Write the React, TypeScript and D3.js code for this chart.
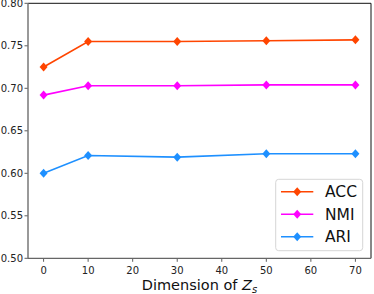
import { useEffect, useRef } from 'react';
import * as d3 from 'd3';

const dims = [0, 10, 30, 50, 70];
const acc = [0.725, 0.755, 0.755, 0.756, 0.757];
const nmi = [0.692, 0.703, 0.703, 0.704, 0.704];
const ari = [0.600, 0.621, 0.619, 0.623, 0.623];
const seriesNames = ['ACC', 'NMI', 'ARI'];
const seriesColors = ['#ff4500', '#ff00ff', '#1e90ff'];
const xTicks = [0, 10, 20, 30, 40, 50, 60, 70];
const yTicks = [0.5, 0.55, 0.6, 0.65, 0.7, 0.75, 0.8];

const W = 374, H = 294;
const FONT = 'DejaVu Sans, sans-serif';

const App = () => {
  const ref = useRef<SVGSVGElement>(null);

  useEffect(() => {
    const svg = d3.select(ref.current);
    svg.selectAll('*').remove();

    const left = 28, right = 371, top = 3.3, bottom = 258.3;
    const x = d3.scaleLinear().domain([-3.5, 73.5]).range([left, right]);
    const y = d3.scaleLinear().domain([0.5, 0.8]).range([bottom, top]);

    svg.append('rect').attr('width', W).attr('height', H).attr('fill', 'white');

    // ticks
    const g = svg.append('g').attr('font-family', FONT).attr('font-size', 10).attr('fill', '#222');
    xTicks.forEach((t) => {
      g.append('line').attr('x1', x(t)).attr('x2', x(t)).attr('y1', bottom).attr('y2', bottom + 3.5)
        .attr('stroke', '#333').attr('stroke-width', 0.8);
      g.append('text').attr('x', x(t)).attr('y', bottom + 15.5).attr('text-anchor', 'middle').text(t);
    });
    yTicks.forEach((t) => {
      g.append('line').attr('x1', left - 3.5).attr('x2', left).attr('y1', y(t)).attr('y2', y(t))
        .attr('stroke', '#333').attr('stroke-width', 0.8);
      g.append('text').attr('x', left - 5).attr('y', y(t)).attr('dy', '0.36em')
        .attr('text-anchor', 'end').text(d3.format('.2f')(t));
    });

    // spines
    svg.append('line').attr('x1', left).attr('x2', right).attr('y1', top).attr('y2', top)
      .attr('stroke', '#111').attr('stroke-width', 1);
    svg.append('line').attr('x1', right).attr('x2', right).attr('y1', top).attr('y2', bottom)
      .attr('stroke', '#111').attr('stroke-width', 1);
    svg.append('line').attr('x1', left).attr('x2', left).attr('y1', top).attr('y2', bottom)
      .attr('stroke', '#777').attr('stroke-width', 1.5);
    svg.append('line').attr('x1', left).attr('x2', right).attr('y1', bottom).attr('y2', bottom)
      .attr('stroke', '#666').attr('stroke-width', 1.2);

    const diamond = (cx: number, cy: number) =>
      `M${cx},${cy - 4.5}L${cx + 4},${cy}L${cx},${cy + 4.5}L${cx - 4},${cy}Z`;

    const line = d3.line<number>().x((_, i) => x(dims[i])).y((d) => y(d));
    [acc, nmi, ari].forEach((vals, k) => {
      svg.append('path').attr('d', line(vals)).attr('fill', 'none')
        .attr('stroke', seriesColors[k]).attr('stroke-width', 1.6);
      vals.forEach((v, i) => {
        svg.append('path').attr('d', diamond(x(dims[i]), y(v))).attr('fill', seriesColors[k]);
      });
    });

    // legend
    const leg = svg.append('g');
    leg.append('rect').attr('x', 275.7).attr('y', 179.3).attr('width', 87).attr('height', 71.4)
      .attr('rx', 3).attr('fill', 'white').attr('fill-opacity', 0.8)
      .attr('stroke', '#d6d6d6').attr('stroke-width', 1);
    seriesNames.forEach((name, k) => {
      const ly = 191.7 + k * 22.5;
      leg.append('line').attr('x1', 281).attr('x2', 313.3).attr('y1', ly).attr('y2', ly)
        .attr('stroke', seriesColors[k]).attr('stroke-width', 1.6);
      leg.append('path').attr('d', diamond(297.2, ly)).attr('fill', seriesColors[k]);
      leg.append('text').attr('x', 325).attr('y', ly).attr('dy', '0.36em')
        .attr('font-family', FONT).attr('font-size', 15.5).attr('fill', '#111').text(name);
    });

    // x label
    const xl = svg.append('text').attr('x', (left + right) / 2).attr('y', 290)
      .attr('text-anchor', 'middle').attr('font-family', FONT).attr('font-size', 14.5).attr('fill', '#111');
    xl.append('tspan').text('Dimension of ');
    xl.append('tspan').attr('font-style', 'italic').text('Z');
    xl.append('tspan').attr('font-style', 'italic').attr('font-size', 10).attr('dy', 3).text('s');
  }, []);

  return (
    <svg ref={ref} width={W} height={H}
      style={{ position: 'absolute', left: 0, top: 0, display: 'block' }} />
  );
};

export default App;
